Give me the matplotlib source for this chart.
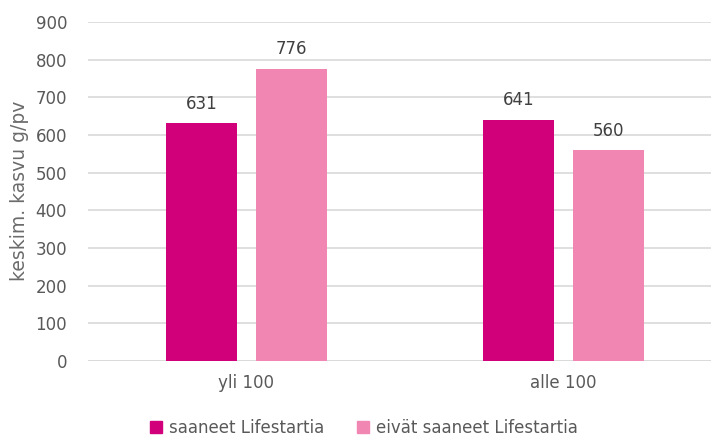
import numpy as np
import matplotlib.pyplot as plt
from matplotlib.patches import Patch

# average growth per group
categories = ['yli 100', 'alle 100']
series_names = ['saaneet Lifestartia', 'eivät saaneet Lifestartia']
saaneet = [631, 641]
eivat = [776, 560]
colors = ['#D1007A', '#F286B3']

fig = plt.figure(figsize=(7.11, 4.37), dpi=100)
ax = fig.add_axes([88/711, 1 - 361/437, 634/711, (361 - 22)/437])

x = np.arange(len(categories))
width = 0.227
off = 0.142
ax.bar(x - off, saaneet, width, color=colors[0], zorder=3)
ax.bar(x + off, eivat, width, color=colors[1], zorder=3)

for xi, v in zip(x, saaneet):
    ax.text(xi - off, v + 28, str(v), ha='center', va='bottom', fontsize=12, color='#404040')
for xi, v in zip(x, eivat):
    ax.text(xi + off, v + 28, str(v), ha='center', va='bottom', fontsize=12, color='#404040')

ax.set_xlim(-0.5, 1.5)
ax.set_ylim(0, 900)
ax.set_yticks(range(0, 901, 100))
ax.set_xticks(x)
ax.set_xticklabels(categories)
ax.tick_params(axis='both', length=0, labelsize=12, labelcolor='#595959')
ax.tick_params(axis='y', pad=15)
ax.tick_params(axis='x', pad=9)
ax.grid(axis='y', color='#D9D9D9', linewidth=1.2, zorder=0)
for s in ax.spines.values():
    s.set_visible(False)
ax.axhline(0, color='#D9D9D9', linewidth=1.2, zorder=2)

fig.text(20/711, 1 - 191/437, 'keskim. kasvu g/pv', rotation=90, ha='center', va='center',
         fontsize=13.5, color='#6b6b6b')

handles = [Patch(color=c) for c in colors]
fig.legend(handles, series_names, loc='center', bbox_to_anchor=(364/711, 1 - 428/437),
           ncol=2, frameon=False, fontsize=12, labelcolor='#595959',
           handlelength=0.7, handleheight=0.7, handletextpad=0.4, columnspacing=2.0)

fig.savefig('out.png', dpi=100)
